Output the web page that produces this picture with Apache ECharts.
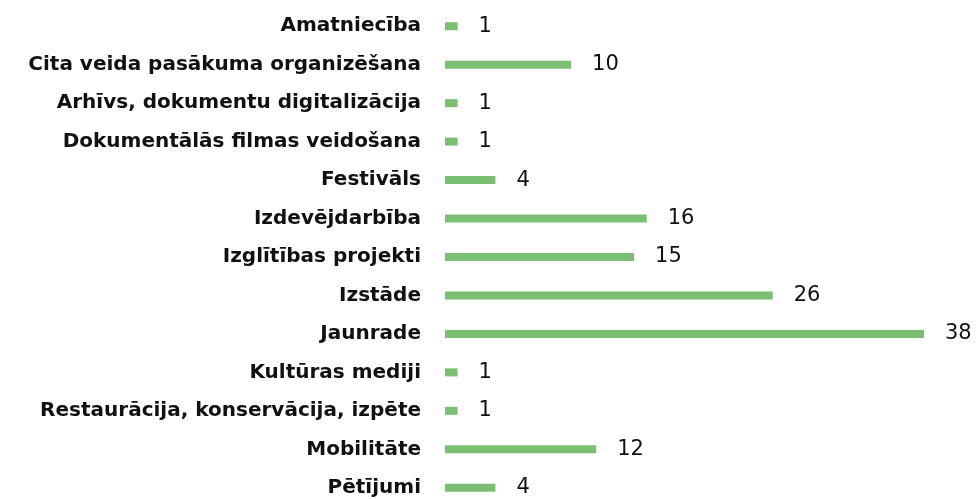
<!DOCTYPE html>
<html>
<head>
<meta charset="utf-8">
<script src="https://cdn.jsdelivr.net/npm/echarts@6/dist/echarts.min.js"></script>
<style>
    html, body { margin: 0; padding: 0; background: #fff; }
    #chart { width: 977px; height: 499px; }
</style>
</head>
<body>
<div id="chart"></div>
<script>
const categories = [
    'Amatniecība',
    'Cita veida pasākuma organizēšana',
    'Arhīvs, dokumentu digitalizācija',
    'Dokumentālās filmas veidošana',
    'Festivāls',
    'Izdevējdarbība',
    'Izglītības projekti',
    'Izstāde',
    'Jaunrade',
    'Kultūras mediji',
    'Restaurācija, konservācija, izpēte',
    'Mobilitāte',
    'Pētījumi'
]
const counts = [1, 10, 1, 1, 4, 16, 15, 26, 38, 1, 1, 12, 4]

const chart = echarts.init(document.getElementById('chart'))

chart.setOption({
    animation: false,
    grid: {
        left: 445,
        right: 53,
        top: 7,
        height: 500,
        outerBoundsMode: 'none'
    },
    xAxis: {
        type: 'value',
        min: 0,
        max: 38,
        show: false
    },
    yAxis: {
        type: 'category',
        data: categories,
        inverse: true,
        axisLine: { show: false },
        axisTick: { show: false },
        axisLabel: {
            margin: 24,
            color: '#111',
            fontFamily: 'DejaVu Sans',
            fontWeight: 'bold',
            fontSize: 20
        }
    },
    series: [
        {
            type: 'bar',
            data: counts,
            barWidth: 8,
            itemStyle: { color: '#7bbf72' },
            label: {
                show: true,
                position: 'right',
                distance: 21,
                color: '#111',
                fontFamily: 'DejaVu Sans',
                fontSize: 21
            }
        }
    ]
})
</script>
</body>
</html>
